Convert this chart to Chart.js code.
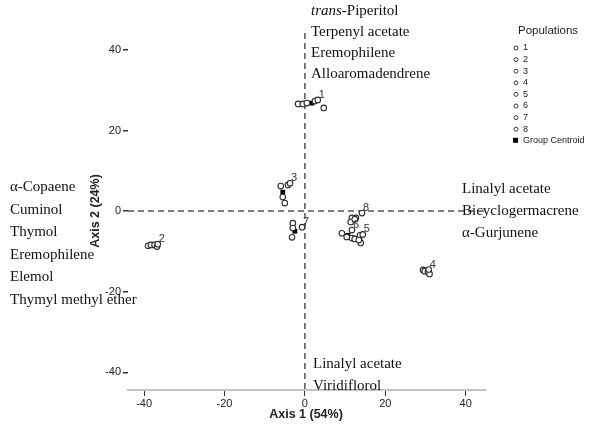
<!DOCTYPE html>
<html>
<head>
<meta charset="utf-8">
<script src="https://cdn.jsdelivr.net/npm/chart.js@4/dist/chart.umd.min.js"></script>
<style>
  body { margin: 0; background: #fff; }
  #wrap { width: 600px; height: 439px; position: relative; }
</style>
</head>
<body>
<div id="wrap"><canvas id="myChart"></canvas></div>
<script>
// discriminant scores per population [axis1, axis2]
var pop1 = [[-1.7, 26.6], [-0.5, 26.6], [0.5, 26.8], [2.5, 27.3], [3.2, 27.6], [4.7, 25.6]];
var pop2 = [[-39.0, -8.6], [-38.3, -8.4], [-37.4, -8.4], [-36.8, -8.8], [-36.6, -8.2]];
var pop3 = [[-6.0, 6.2], [-4.2, 6.5], [-3.7, 6.9], [-5.5, 3.5], [-5.0, 2.0]];
var pop4 = [[29.4, -14.6], [29.8, -14.9], [30.6, -15.1], [31.0, -15.6], [30.8, -14.5]];
var pop5 = [[13.7, -6.0], [14.4, -5.8], [13.9, -7.9], [13.4, -7.2]];
var pop6 = [[9.2, -5.5], [11.7, -4.7], [11.7, -6.7], [12.4, -6.9], [10.4, -6.4]];
var pop7 = [[-3.0, -3.0], [-0.7, -4.0], [-3.0, -4.2], [-3.2, -6.5]];
var pop8 = [[14.2, -0.5], [12.7, -1.7], [11.7, -1.7], [11.4, -2.7], [12.4, -2.0]];
var centroids = [[1.7, 26.8], [-37.8, -8.5], [-5.5, 4.7], [30.1, -15.0], [13.7, -6.5], [10.7, -6.0], [-2.5, -5.0], [12.2, -2.2]];

var popNames = ["1", "2", "3", "4", "5", "6", "7", "8"];
// which case of each population carries the number label
var labelIdx = [4, 4, 2, 4, 1, 1, 1, 0];
var xTicks = [-40, -20, 0, 20, 40];
var yTicks = [-40, -20, 0, 20, 40];

// compound groups written beside each axis direction
var topNotes = ["trans-Piperitol", "Terpenyl acetate", "Eremophilene", "Alloaromadendrene"];
var leftNotes = ["\u03b1-Copaene", "Cuminol", "Thymol", "Eremophilene", "Elemol", "Thymyl methyl ether"];
var rightNotes = ["Linalyl acetate", "Bicyclogermacrene", "\u03b1-Gurjunene"];
var bottomNotes = ["Linalyl acetate", "Viridiflorol"];

var pops = [pop1, pop2, pop3, pop4, pop5, pop6, pop7, pop8];
var toXY = function(arr) {
  return arr.map(function(p) { return { x: p[0], y: p[1] }; });
};

var datasets = pops.map(function(p, i) {
  return {
    label: popNames[i],
    data: toXY(p),
    pointStyle: "circle",
    pointRadius: 2.8,
    borderWidth: 1.1,
    borderColor: "#2e2e2e",
    backgroundColor: "#ffffff"
  };
});
datasets.push({
  label: "Group Centroid",
  data: toXY(centroids),
  pointStyle: "rect",
  pointRadius: 3.4,
  borderWidth: 0,
  borderColor: "#000",
  backgroundColor: "#000"
});

var serif = "'Liberation Serif', 'Times New Roman', serif";
var sans = "'Liberation Sans', Arial, sans-serif";

// dashed zero lines, number labels, notes, axis titles, legend
var extras = {
  id: "extras",
  beforeDatasetsDraw: function(chart) {
    var ctx = chart.ctx, a = chart.chartArea;
    var x0 = chart.scales.x.getPixelForValue(0);
    var y0 = chart.scales.y.getPixelForValue(0);
    ctx.save();
    ctx.strokeStyle = "#555";
    ctx.lineWidth = 1.5;
    ctx.setLineDash([6, 4]);
    ctx.beginPath();
    ctx.moveTo(x0, a.top);
    ctx.lineTo(x0, a.bottom);
    ctx.moveTo(a.left, y0);
    ctx.lineTo(a.right, y0);
    ctx.stroke();
    ctx.restore();
  },
  afterDraw: function(chart) {
    var ctx = chart.ctx;
    ctx.save();

    // population numbers beside one case
    ctx.font = "11px " + sans;
    ctx.fillStyle = "#333";
    ctx.textAlign = "left";
    ctx.textBaseline = "alphabetic";
    labelIdx.forEach(function(k, i) {
      var el = chart.getDatasetMeta(i).data[k];
      ctx.fillText(popNames[i], el.x + 1, el.y - 2);
    });

    // compound notes
    ctx.font = "15px " + serif;
    ctx.fillStyle = "#111";
    ctx.textBaseline = "middle";
    topNotes.forEach(function(t, i) {
      var y = 11 + i * 21;
      if (i == 0) {
        ctx.font = "italic 15px " + serif;
        ctx.fillText("trans", 311, y);
        var w = ctx.measureText("trans").width;
        ctx.font = "15px " + serif;
        ctx.fillText(t.replace("trans", ""), 311 + w, y);
      } else {
        ctx.fillText(t, 311, y);
      }
    });
    leftNotes.forEach(function(t, i) {
      ctx.fillText(t, 10, 187 + i * 22.6);
    });
    rightNotes.forEach(function(t, i) {
      ctx.fillText(t, 462, 189 + i * 22);
    });
    bottomNotes.forEach(function(t, i) {
      ctx.fillText(t, 313, 364 + i * 22);
    });

    // axis titles
    ctx.font = "bold 12.5px " + sans;
    ctx.fillStyle = "#222";
    ctx.textAlign = "center";
    ctx.fillText("Axis 1 (54%)", 306, 415);
    ctx.save();
    ctx.translate(96, 211);
    ctx.rotate(-Math.PI / 2);
    ctx.fillText("Axis 2 (24%)", 0, 0);
    ctx.restore();

    // legend
    ctx.textAlign = "left";
    ctx.font = "11.5px " + sans;
    ctx.fillStyle = "#222";
    ctx.fillText("Populations", 518, 31);
    ctx.font = "9px " + sans;
    chart.data.datasets.forEach(function(ds, i) {
      var y = 48 + i * 11.6;
      if (ds.pointStyle == "rect") {
        ctx.fillStyle = "#000";
        ctx.fillRect(513, y - 3, 5, 5);
      } else {
        ctx.strokeStyle = "#3a3a3a";
        ctx.lineWidth = 1;
        ctx.beginPath();
        ctx.arc(516, y, 2, 0, Math.PI * 2);
        ctx.stroke();
      }
      ctx.fillStyle = "#222";
      ctx.fillText(ds.label, 523, y);
    });
    ctx.restore();
  }
};

var ctx = document.getElementById("myChart").getContext("2d");
var myChart = new Chart(ctx, {
  type: "scatter",
  data: { datasets: datasets },
  options: {
    responsive: true,
    maintainAspectRatio: false,
    animation: false,
    devicePixelRatio: 1,
    layout: { padding: { left: 88, right: 115, top: 33, bottom: 29 } },
    plugins: { legend: { display: false }, tooltip: { enabled: false } },
    scales: {
      x: {
        type: "linear",
        min: -44,
        max: 44.8,
        afterFit: function(s) { s.height = 20; },
        afterBuildTicks: function(s) {
          s.ticks = xTicks.map(function(v) { return { value: v }; });
        },
        grid: { drawOnChartArea: false, drawTicks: true, tickLength: 6, color: "#333", lineWidth: 1 },
        border: { display: true, color: "#c4c4c4", width: 2 },
        ticks: { color: "#222", font: { family: sans, size: 11 }, padding: 1 }
      },
      y: {
        type: "linear",
        min: -44.4,
        max: 44.2,
        afterFit: function(s) { s.width = 40; },
        afterBuildTicks: function(s) {
          s.ticks = yTicks.map(function(v) { return { value: v }; });
        },
        grid: { drawOnChartArea: false, drawTicks: true, tickLength: 5, color: "#333", lineWidth: 1.5 },
        border: { display: false },
        ticks: { color: "#222", font: { family: sans, size: 11 }, padding: 2 }
      }
    }
  },
  plugins: [extras]
});
</script>
</body>
</html>
